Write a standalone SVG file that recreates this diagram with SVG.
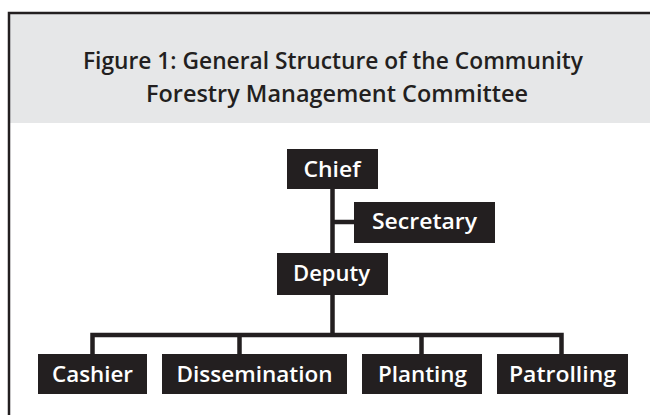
<svg xmlns="http://www.w3.org/2000/svg" width="650" height="415" viewBox="0 0 650 415">
<style>
.box{fill:#231f20}
.lbl{font-family:"Open Sans","Liberation Sans",sans-serif;font-weight:600;font-size:22px;fill:#ffffff;text-anchor:middle}
.ttl{font-family:"Open Sans","Liberation Sans",sans-serif;font-weight:600;font-size:23px;fill:#231f20;text-anchor:middle}
.ln{stroke:#231f20;stroke-width:4.5;fill:none}
</style>
<rect x="0" y="0" width="650" height="415" fill="#ffffff"/>
<rect x="9" y="13" width="641" height="110" fill="#e6e7e8"/>
<path d="M9 415 V13 H650" fill="none" stroke="#231f20" stroke-width="2.5"/>
<g id="title">
<text class="ttl" x="333" y="69" textLength="500" lengthAdjust="spacingAndGlyphs">Figure 1: General Structure of the Community</text>
<text class="ttl" x="337" y="102" textLength="382" lengthAdjust="spacingAndGlyphs">Forestry Management Committee</text>
</g>
<g id="connectors">
<path class="ln" d="M332.5 189 V253 M332.5 222 H354 M332.5 295 V335"/>
<path class="ln" d="M92.5 354 V335 H561.5 V354 M239.5 335 V354 M421.5 335 V354"/>
</g>
<g id="chief"><rect class="box" x="287" y="149" width="91" height="40"/><text class="lbl" x="332" y="177" textLength="57" lengthAdjust="spacingAndGlyphs">Chief</text></g>
<g id="secretary"><rect class="box" x="354" y="202" width="141" height="41"/><text class="lbl" x="424.5" y="229" textLength="105" lengthAdjust="spacingAndGlyphs">Secretary</text></g>
<g id="deputy"><rect class="box" x="277" y="253" width="111" height="42"/><text class="lbl" x="331.5" y="281" textLength="77" lengthAdjust="spacingAndGlyphs">Deputy</text></g>
<g id="cashier"><rect class="box" x="38" y="354" width="109" height="40"/><text class="lbl" x="92.5" y="382" textLength="81" lengthAdjust="spacingAndGlyphs">Cashier</text></g>
<g id="dissemination"><rect class="box" x="162" y="354" width="185" height="40"/><text class="lbl" x="254.5" y="382" textLength="156" lengthAdjust="spacingAndGlyphs">Dissemination</text></g>
<g id="planting"><rect class="box" x="362" y="354" width="120" height="40"/><text class="lbl" x="422.5" y="382" textLength="89" lengthAdjust="spacingAndGlyphs">Planting</text></g>
<g id="patrolling"><rect class="box" x="497" y="354" width="131" height="40"/><text class="lbl" x="562.5" y="382" textLength="107" lengthAdjust="spacingAndGlyphs">Patrolling</text></g>
</svg>
